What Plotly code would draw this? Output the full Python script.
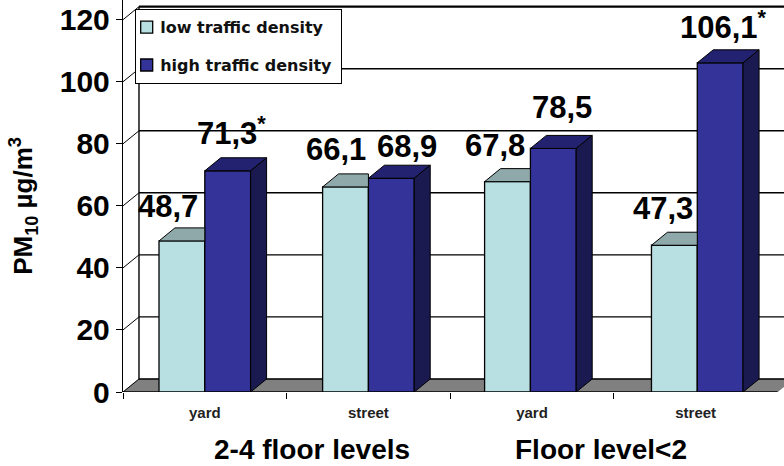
import plotly.graph_objects as go

categories = ["yard", "street", "yard", "street"]
groups = ["2-4 floor levels", "Floor level<2"]
low_name = "low traffic density"
high_name = "high traffic density"
y_title = "PM<sub>10</sub> µg/m<sup>3</sup>"
low_values = [48.7, 66.1, 67.8, 47.3]
high_values = [71.3, 68.9, 78.5, 106.1]
high_flags = ["*", "", "", "*"]
y_ticks = [0, 20, 40, 60, 80, 100, 120]

# style and layout
DX, DY = 0.0977, 4.2
W = 0.28
FONT = "Liberation Sans, Arial, sans-serif"
LOW, HIGH = "#B8DFE2", "#333399"
LOW_TOP, HIGH_TOP, HIGH_SIDE = "#8FA8AA", "#222270", "#1A1A50"
XMAX = 4.04
centers = [i + 0.5 for i in range(len(categories))]
bar_shift = [0.0, 0.0, -0.01, 0.01]


def bold(size, color="black", family=FONT):
    return dict(size=size, family=family, color=color, weight="bold")


shapes = []
shapes.append(dict(type="path", path=f"M 0 0 L {DX} {DY} L {4+DX} {DY} L 4 0 Z",
                   fillcolor="#808080", line=dict(color="#808080", width=0.5), layer="below"))
for t in y_ticks:
    shapes.append(dict(type="line", x0=DX, x1=4 + DX, y0=t + DY, y1=t + DY,
                       line=dict(color="black", width=2.4 if t == 120 else 1.4), layer="below"))
    shapes.append(dict(type="line", x0=0, x1=DX, y0=t, y1=t + DY,
                       line=dict(color="black", width=1), layer="below"))
shapes.append(dict(type="line", x0=DX, x1=DX, y0=DY, y1=120 + DY, line=dict(color="black", width=1.4), layer="below"))
shapes.append(dict(type="line", x0=0, x1=4, y0=0, y1=0, line=dict(color="black", width=1.6), layer="below"))

fig = go.Figure()
xs = [c + s for c, s in zip(centers, bar_shift)]
fig.add_trace(go.Bar(name=low_name, x=xs, y=low_values, width=W, offset=-W,
                     marker=dict(color=LOW, line=dict(color="black", width=1.3)),
                     legendgroup="low", hoverinfo="skip"))
fig.add_trace(go.Bar(name=high_name, x=xs, y=high_values, width=W, offset=0,
                     marker=dict(color=HIGH, line=dict(color="black", width=1.3)),
                     legendgroup="high", hoverinfo="skip"))


def poly(px, py, color):
    fig.add_trace(go.Scatter(x=px + px[:1], y=py + py[:1], mode="lines", fill="toself", fillcolor=color,
                             line=dict(color="black", width=1), showlegend=False, hoverinfo="skip"))


for c, lo, hi in zip(xs, low_values, high_values):
    poly([c - W, c, c, c - W + DX], [lo, lo, lo + DY, lo + DY], LOW_TOP)
    poly([c, c + W, c + W + DX, c + DX], [hi, hi, hi + DY, hi + DY], HIGH_TOP)
    poly([c + W, c + W + DX, c + W + DX, c + W], [0, DY, hi + DY, hi], HIGH_SIDE)

# pixel offsets of the value labels from the bar tops
low_dx = [-14, -10, -12, -11]
low_dy = [34, 37, 36, 37]
high_dx = [4, 16, 9, 3]
high_dy = [40, 32, 41, 38]
ann = []
for c, lo, hi, fl, a, b, d, e in zip(xs, low_values, high_values, high_flags, low_dx, low_dy, high_dx, high_dy):
    ann.append(dict(x=c - W / 2, y=lo, text=f"{lo}".replace(".", ","), xshift=a, yshift=b,
                    showarrow=False, font=bold(31)))
    star = f"<sup>{fl}</sup>" if fl else ""
    ann.append(dict(x=c + W / 2, y=hi, text=f"{hi}".replace(".", ",") + star, xshift=d, yshift=e,
                    showarrow=False, font=bold(31)))
ann.append(dict(x=1.0, xref="x", y=-0.147, yref="paper", text=groups[0], showarrow=False,
                xanchor="center", yanchor="middle", font=bold(28), xshift=25))
ann.append(dict(x=3.0, xref="x", y=-0.147, yref="paper", text=groups[1], showarrow=False,
                xanchor="center", yanchor="middle", font=bold(28), xshift=-13))
ann.append(dict(x=0, xref="x", y=60, yref="y", text=y_title, showarrow=False, textangle=-90,
                xanchor="center", yanchor="middle", xshift=-100, font=bold(26)))

fig.update_layout(
    width=784, height=466, autosize=False, barmode="overlay",
    margin=dict(l=122.5, r=0, t=0, b=74.3, pad=0),
    paper_bgcolor="white", plot_bgcolor="white",
    shapes=shapes, annotations=ann,
    xaxis=dict(range=[0, XMAX], tickmode="array", tickvals=centers, ticktext=categories,
               ticks="", showgrid=False, zeroline=False, showline=False, automargin=False,
               tickfont=bold(15, "#222222"), ticklabelstandoff=10,
               minor=dict(tickmode="array", tickvals=[0, 1, 2, 3], ticks="outside", ticklen=6, tickwidth=1.3,
                          tickcolor="black", showgrid=False)),
    yaxis=dict(range=[0, 126.35], tickmode="array", tickvals=y_ticks, ticktext=[str(t) for t in y_ticks],
               ticks="outside", ticklen=6, tickwidth=1.3, tickcolor="black", automargin=False,
               showgrid=False, zeroline=False, showline=True, linecolor="black", linewidth=1.4,
               tickfont=bold(30)),
    legend=dict(x=0.018, y=0.977, xanchor="left", yanchor="top", bgcolor="white", bordercolor="black",
                borderwidth=1.3, traceorder="grouped", tracegroupgap=14, itemclick=False, itemdoubleclick=False,
                font=bold(16, "#111111", "DejaVu Sans")),
)
post = """
document.body.style.margin='0';
var lg=document.querySelector('.legend');
lg.querySelectorAll('.legendtext').forEach(function(t){t.setAttribute('x',24);
  t.querySelectorAll('tspan').forEach(function(s){s.setAttribute('x',24);});});
lg.querySelectorAll('.layers').forEach(function(g){g.setAttribute('transform','translate(-9.5,0)');});
var bg=lg.querySelector('rect.bg');bg.setAttribute('width',206);bg.setAttribute('height',74);
"""
fig.write_html("out.html", config=dict(displayModeBar=False), post_script=post)
